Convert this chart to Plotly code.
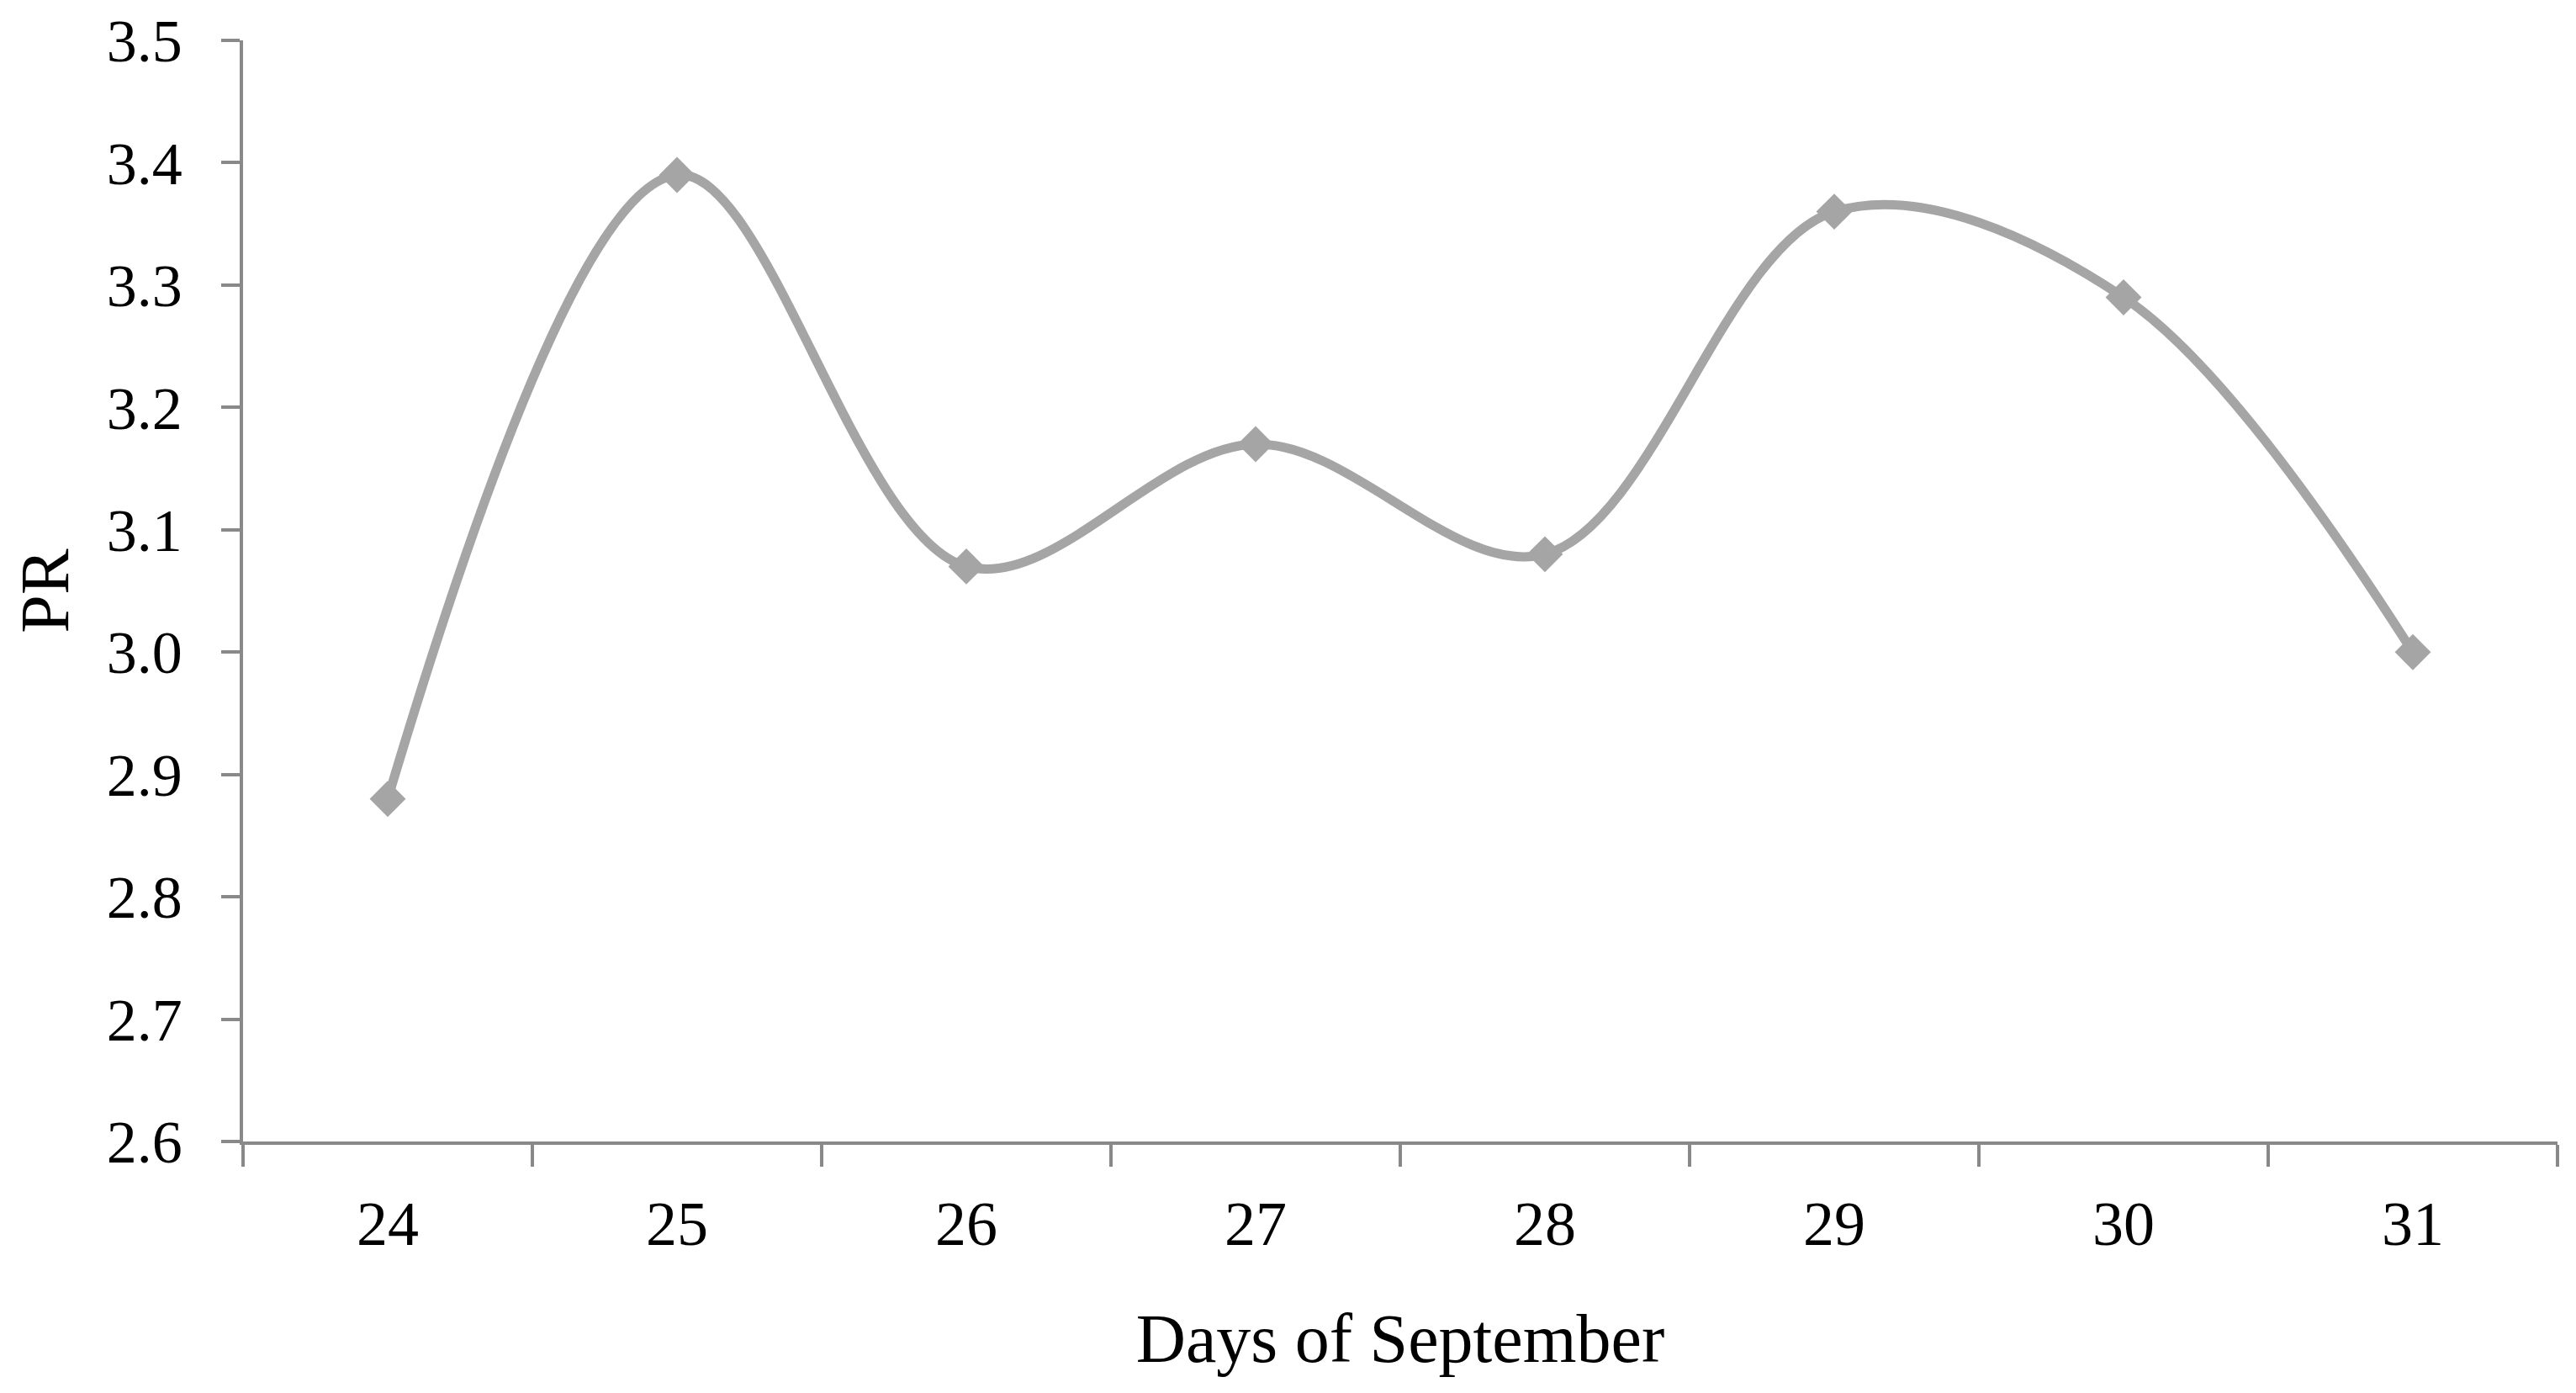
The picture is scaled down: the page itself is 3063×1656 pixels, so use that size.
import plotly.graph_objects as go

days = ["24", "25", "26", "27", "28", "29", "30", "31"]
pr_values = [2.88, 3.39, 3.07, 3.17, 3.08, 3.36, 3.29, 3.00]
y_ticks = [2.6, 2.7, 2.8, 2.9, 3.0, 3.1, 3.2, 3.3, 3.4, 3.5]

axis_color = "#898989"
series_color = "#A5A5A5"
font_family = "Liberation Serif, Times New Roman, serif"

fig = go.Figure()
fig.add_trace(go.Scatter(
    x=days, y=pr_values, mode="lines+markers",
    line=dict(color=series_color, width=11, shape="spline", smoothing=1.0),
    marker=dict(symbol="diamond", size=33, color=series_color),
    showlegend=False,
))

fig.update_layout(
    width=3063, height=1656,
    margin=dict(l=281, r=30, t=40, b=307),
    paper_bgcolor="white", plot_bgcolor="white",
    font=dict(family=font_family, color="black", size=72),
)
fig.update_xaxes(
    type="category", range=[-0.5, 7.5], automargin=False,
    tickson="boundaries", ticks="outside", ticklen=26, tickwidth=3.5, tickcolor=axis_color,
    showline=True, linecolor=axis_color, linewidth=3.5,
    showgrid=False, zeroline=False,
    tickfont=dict(size=74, family=font_family),
    ticklabelstandoff=30, ticklabeloverflow="allow",
    title=dict(text="Days of September", font=dict(size=82, family=font_family), standoff=68),
)
fig.update_yaxes(
    range=[2.6, 3.5], automargin=False,
    tickvals=y_ticks, ticktext=[f"{v:.1f}" for v in y_ticks],
    ticks="outside", ticklen=22, tickwidth=3.5, tickcolor=axis_color,
    showline=True, linecolor=axis_color, linewidth=3.5,
    showgrid=False, zeroline=False,
    tickfont=dict(size=72, family=font_family),
    ticklabelstandoff=32, ticklabeloverflow="allow",
    title=dict(text="PR", font=dict(size=82, family=font_family), standoff=62),
)

fig.write_html("out.html")
